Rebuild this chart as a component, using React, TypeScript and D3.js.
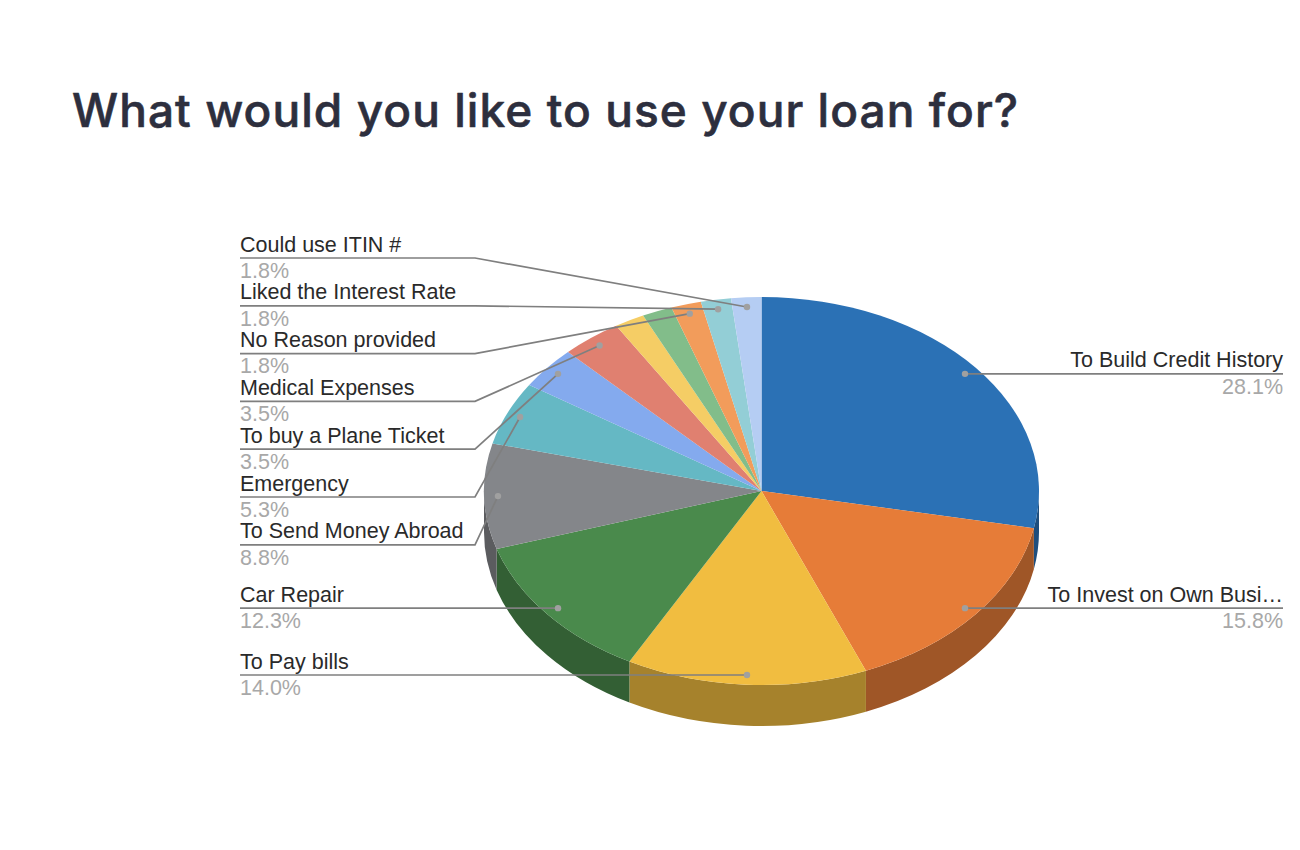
import * as React from "react";
import * as d3 from "d3";

// answers out of 57 responses, clockwise from 12 o'clock
const categories: string[] = [
    "To Build Credit History",
    "To Invest on Own Busi…",
    "To Pay bills",
    "Car Repair",
    "To Send Money Abroad",
    "Emergency",
    "To buy a Plane Ticket",
    "Medical Expenses",
    "",
    "",
    "No Reason provided",
    "Liked the Interest Rate",
    "Could use ITIN #"
];
const counts: number[] = [16, 9, 8, 7, 5, 3, 2, 2, 1, 1, 1, 1, 1];
const colors: string[] = [
    "#2b71b5", "#e67c38", "#f1bd40", "#4a8a4c", "#84868a", "#65b8c4", "#84aaee",
    "#e08070", "#f5cd65", "#82bd8a", "#f29c5b", "#93ced6", "#b5cdf3"
];

const width: number = 1300;
const height: number = 850;
const cx: number = 761.5;
const cy: number = 491;
const rx: number = 277.5;
const ry: number = 194;
const depth: number = 41;
const dotRatio: number = 0.95;

const leftX: number = 240;
const rightX: number = 1283;
const elbowX: number = 475;
const stackTop: number = 258;
const stackStep: number = 47.8;

type Slice = d3.PieArcDatum<number>;

const total: number = d3.sum(counts);
const fmt = d3.format(".1%");
const pie = d3.pie<number>().sort(null).startAngle(0).endAngle(2 * Math.PI);
const slices: Slice[] = pie(counts);
const arc = d3.arc<Slice>().innerRadius(0).outerRadius(rx);
const yScale: number = ry / rx;

function wallPath(a0: number, a1: number): string {
    // drawn in the unsquashed space, same as the top face
    const start: number = Math.max(a0, Math.PI / 2) - Math.PI / 2;
    const end: number = Math.min(a1, 1.5 * Math.PI) - Math.PI / 2;
    const drop: number = depth / yScale;
    const p = d3.path();
    p.arc(0, 0, rx, start, end, false);
    p.arc(0, drop, rx, end, start, true);
    p.closePath();
    return p.toString();
}

function dotOf(s: Slice): [number, number] {
    const mid: number = (s.startAngle + s.endAngle) / 2;
    return [cx + rx * dotRatio * Math.sin(mid), cy - ry * dotRatio * Math.cos(mid)];
}

function darker(c: string): string {
    const rgb = d3.rgb(c);
    return d3.rgb(rgb.r * 0.69, rgb.g * 0.69, rgb.b * 0.69).formatHex();
}

export default function App(): JSX.Element {
    // labels on the left side stack from the top, counted from the last slice
    const labels = slices.map((s: Slice, i: number) => {
        const [dx, dy] = dotOf(s);
        const name: string = categories[i];
        if (!name) {
            return null;
        }
        const isRight: boolean = (s.startAngle + s.endAngle) / 2 < Math.PI;
        let lineY: number = dy;
        if (i >= 4) {
            const row: number = slices.length - 1 - i - (i < 8 ? 2 : 0);
            lineY = stackTop + row * stackStep;
        }
        const x0: number = isRight ? rightX : leftX;
        const anchor: string = isRight ? "end" : "start";
        const pts: [number, number][] = i >= 4
            ? [[x0, lineY], [elbowX, lineY], [dx, dy]]
            : [[x0, lineY], [dx, dy]];
        return (
            <g key={name}>
                <path d={d3.line()(pts) as string} fill="none" stroke="#7f7f7f" strokeWidth={1.7} />
                <circle cx={dx} cy={dy} r={3.2} fill="#a0a0a0" />
                <text x={x0} y={lineY - 6.5} textAnchor={anchor} fontSize={21.5} fill="#2a2a2a">{name}</text>
                <text x={x0} y={lineY + 19.7} textAnchor={anchor} fontSize={21.5} fill="#a8a8a8">{fmt(s.value / total)}</text>
            </g>
        );
    });

    return (
        <svg width={width} height={height} style={{ position: "absolute", left: 0, top: 0, background: "#fff" }}
             fontFamily="'Liberation Sans', Arial, sans-serif">
            <text x={72} y={127} fontFamily="Inter, sans-serif" fontWeight={500} fontSize={46} fill="#2d2f3e"
                  stroke="#2d2f3e" strokeWidth={0.6} strokeLinejoin="round"
                  textLength={946} lengthAdjust="spacing">What would you like to use your loan for?</text>
            <g transform={`translate(${cx},${cy}) scale(1,${yScale})`}>
                {slices.filter((s: Slice) => s.endAngle > Math.PI / 2 && s.startAngle < 1.5 * Math.PI).map((s: Slice) => (
                    <path key={s.index} d={wallPath(s.startAngle, s.endAngle)} fill={darker(colors[s.index])} />
                ))}
                {slices.map((s: Slice) => (
                    <path key={s.index} d={arc(s) as string} fill={colors[s.index]} />
                ))}
            </g>
            {labels}
        </svg>
    );
}
